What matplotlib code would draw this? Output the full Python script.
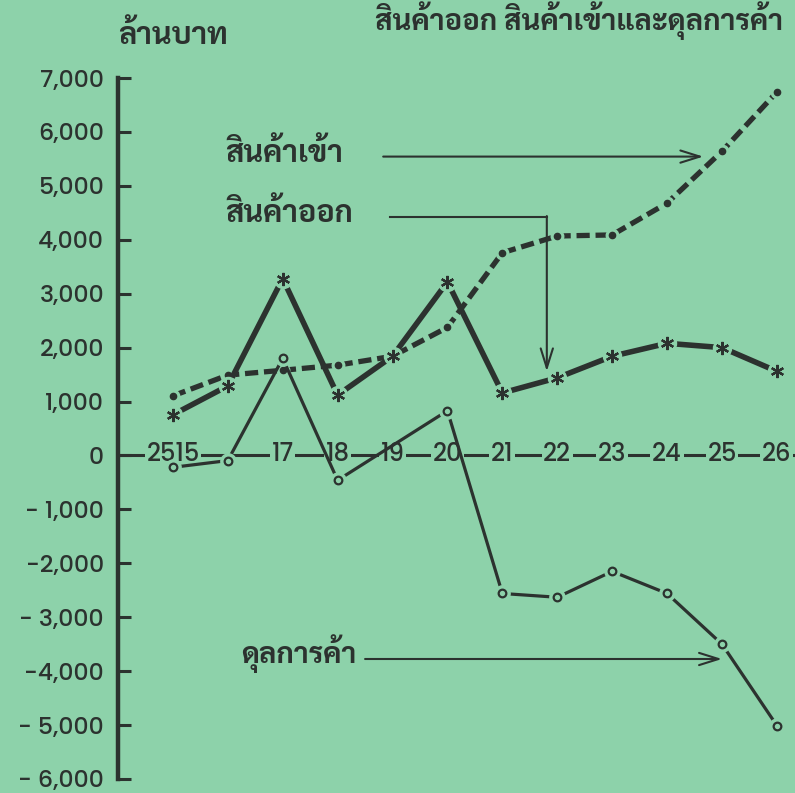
import matplotlib
matplotlib.use("Agg")
import matplotlib.pyplot as plt
from matplotlib import font_manager

# fonts: a Thai face for the words, a round geometric one for the numbers
faces = font_manager.fontManager.ttflist
def pick(prefs, weight, default="DejaVu Sans"):
    for p in prefs:
        if any(f.name == p and f.weight == weight for f in faces):
            return p
    return default

THAI = pick(["Sarabun", "Bai Jamjuree", "Athiti"], 700)
DIGIT = pick(["Jost", "Poppins", "Montserrat", "Lato"], 500)

BG = "#8dd2aa"
INK = "#2c322f"

# data (million baht), Buddhist years 2515-2526
years = [2515, 2516, 2517, 2518, 2519, 2520, 2521, 2522, 2523, 2524, 2525, 2526]
year_labels = ["2515", "", "17", "18", "19", "20", "21", "22", "23", "24", "25", "26"]
imports = [1105, 1490, 1580, 1675, 1840, 2375, 3760, 4070, 4090, 4680, 5640, 6740]
exports = [755, 1290, 3280, 1120, 1840, 3220, 1160, 1440, 1840, 2080, 2000, 1560]
balance_years = [2515, 2516, 2517, 2518, 2520, 2521, 2522, 2523, 2524, 2525, 2526]
balance = [-220, -95, 1800, -460, 830, -2560, -2630, -2150, -2560, -3500, -5010]

y_ticks = [7000, 6000, 5000, 4000, 3000, 2000, 1000, 0,
           -1000, -2000, -3000, -4000, -5000, -6000]
y_labels = ["7,000", "6,000", "5,000", "4,000", "3,000", "2,000", "1,000", "0",
            "- 1,000", "-2,000", "- 3,000", "-4,000", "- 5,000", "- 6,000"]

title = "สินค้าออก สินค้าเข้าและดุลการค้า"
unit = "ล้านบาท"
lbl_imp = "สินค้าเข้า"
lbl_exp = "สินค้าออก"
lbl_bal = "ดุลการค้า"

fig = plt.figure(figsize=(7.95, 7.93), dpi=100, facecolor=BG)
ax = fig.add_axes([0.1484, 0.0177, 0.8516, 0.8839], facecolor=BG)
ax.set_xlim(2514.0, 2526.33)
ax.set_ylim(-6000, 7000)

for s in ("top", "right", "bottom"):
    ax.spines[s].set_visible(False)
ax.spines["left"].set_linewidth(3.2)
ax.spines["left"].set_color(INK)
ax.set_xticks([])
ax.set_yticks(y_ticks)
ax.set_yticklabels(y_labels, fontfamily=DIGIT, fontweight=500, fontsize=17,
                   color=INK)
ax.tick_params(axis="y", direction="in", length=9, width=2.2, color=INK, pad=10)

# zero line made of dashes between the year labels
ax.axhline(0, color=INK, lw=2.2, zorder=1)
for yr, lb in zip(years, year_labels):
    if lb:
        ax.text(yr, 0, lb, ha="center", va="center", fontsize=17.5,
                fontfamily=DIGIT, fontweight=500, color=INK, zorder=2,
                bbox=dict(fc=BG, ec="none", pad=1.2))

# imports: heavy dashes, small dots
ax.plot(years, imports, color=INK, lw=3.8, dashes=(2.5, 1.1), zorder=3)
ax.plot(years, imports, "o", color=BG, ms=9, zorder=3.1)
ax.plot(years, imports, "o", color=INK, ms=4.5, zorder=3.2)

# exports: heavy solid line, asterisks
ax.plot(years, exports, color=INK, lw=4.0, zorder=4, solid_capstyle="butt")
ax.plot(years, exports, "o", color=BG, ms=13, zorder=4.1)
ax.plot(years, exports, marker=(6, 2, 0), ls="none", color=INK, ms=9.5,
        mew=1.6, zorder=4.2)

# trade balance: thinner solid line, open circles
ax.plot(balance_years, balance, color=INK, lw=2.3, zorder=5, solid_capstyle="butt")
ax.plot(balance_years, balance, "o", color=BG, ms=11, zorder=5.1)
ax.plot(balance_years, balance, "o", mfc=BG, mec=INK, ms=5.5, mew=1.6,
        ls="none", zorder=5.2)

# labels with arrows
arrow = dict(arrowstyle="->,head_length=0.7,head_width=0.22", color=INK,
             lw=1.5, shrinkA=0, shrinkB=0, mutation_scale=20)
tkw = dict(fontfamily=THAI, fontweight="bold", color=INK,
           va="center", ha="left")

ax.text(2515.95, 5600, lbl_imp, fontsize=22, **tkw)
ax.annotate("", xy=(2524.66, 5543), xytext=(2518.83, 5543), arrowprops=arrow)

ax.text(2515.95, 4480, lbl_exp, fontsize=22, **tkw)
ax.plot([2518.95, 2521.81], [4420, 4420], color=INK, lw=1.5)
ax.annotate("", xy=(2521.81, 1560), xytext=(2521.81, 4440), arrowprops=arrow)

ax.text(2516.25, -3680, lbl_bal, fontsize=21, **tkw)
ax.annotate("", xy=(2525.0, -3775), xytext=(2518.5, -3775), arrowprops=arrow)

fig.text(0.218, 0.955, unit, fontfamily=THAI, fontsize=22, fontweight="bold",
         color=INK, ha="center", va="center")
fig.text(0.472, 0.962, title, fontfamily=THAI, fontsize=21, fontweight="bold",
         color=INK, ha="left", va="baseline")

fig.savefig("out.png", dpi=100, facecolor=BG)
